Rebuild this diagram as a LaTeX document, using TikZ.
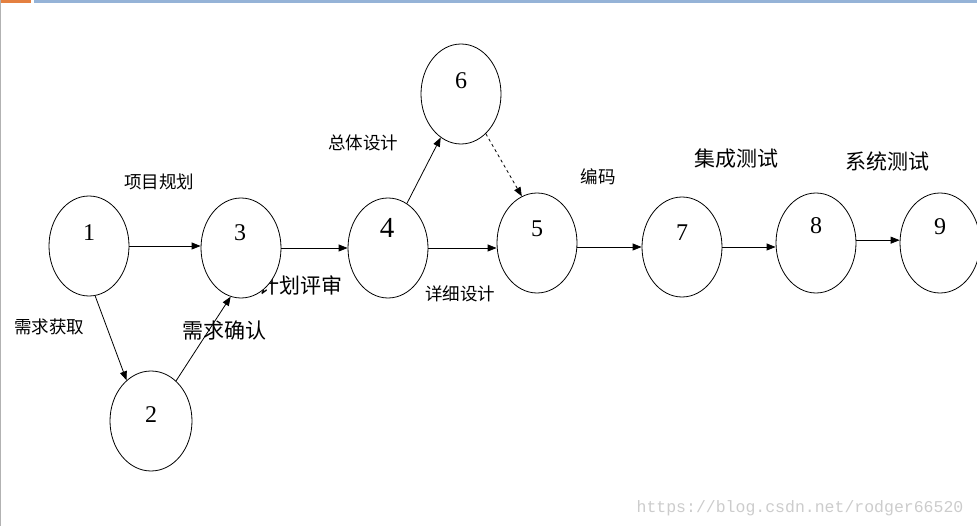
\documentclass[tikz,border=0pt]{standalone}
\usepackage{fontspec}
\setmainfont{Liberation Serif}
\newfontfamily\cjk{Noto Sans CJK SC}
\newfontfamily\wmfont{Liberation Mono}
\usetikzlibrary{arrows.meta,shapes.geometric}
\begin{document}
\begin{tikzpicture}[x=1pt,y=-1pt,
  evt/.style={draw,ellipse,fill=white,line width=0.8pt,minimum width=80pt,minimum height=100pt,inner sep=0pt},
  num/.style={font=\fontsize{24}{24}\selectfont,inner sep=0pt},
  bignum/.style={font=\fontsize{29}{29}\selectfont,inner sep=0pt},
  lab/.style={font=\cjk\fontsize{17.5}{17.5}\selectfont,inner sep=0pt},
  biglab/.style={font=\cjk\fontsize{21}{21}\selectfont,inner sep=0pt},
  arr/.style={-{Triangle[length=9pt,width=7pt]},line width=0.8pt},
  darr/.style={arr,dashed}]
\useasboundingbox (0,0) rectangle (977,526);
% frame decorations
\fill[fill={rgb,255:red,228;green,128;blue,64}] (0,0) rectangle (31,3);
\fill[fill={rgb,255:red,149;green,179;blue,215}] (34,0) rectangle (977,3);
\draw[gray!60,line width=1pt] (0.5,0) -- (0.5,526);
% label hidden partly behind node 3
\node[biglab] (l34) at (300,285) {计划评审};
% events
\node[evt] (e1) at (89,246) {};
\node[evt] (e3) at (241,248) {};
\node[evt] (e4) at (388,248) {};
\node[evt] (e6) at (461,94) {};
\node[evt] (e5) at (537,243) {};
\node[evt] (e7) at (682,247) {};
\node[evt] (e8) at (816,243) {};
\node[evt] (e9) at (940,243) {};
\node[evt,minimum width=82pt] (e2) at (151,421) {};
% numbers
\node[num] (n1) at (89,233) {1};
\node[num] (n3) at (240,233) {3};
\node[bignum] (n4) at (387,228) {4};
\node[num] (n6) at (461,81) {6};
\node[num] (n5) at (537,229) {5};
\node[num] (n7) at (682,233) {7};
\node[num] (n8) at (816,226) {8};
\node[num] (n9) at (940,227) {9};
\node[num] (n2) at (151,415) {2};
% connectors
\draw[arr] (e1.east) -- (e1.east -| e3.west);
\draw[arr] (e3.east) -- (e3.east -| e4.west);
\draw[arr] (e4.east) -- (e4.east -| e5.west);
\draw[arr] (e4.67) -- (e6.245);
\draw[darr] (e6.-58) -- (e5.108);
\draw[arr] (e5.east) ++(0,4) coordinate (c57) -- (c57 -| e7.west);
\draw[arr] (e7.east) -- (e7.east -| e8.west);
\draw[arr] (e8.4) -- (e8.4 -| e9.west);
\draw[arr] (e1.-83) -- (e2.121);
\draw[arr] (e2.58) -- (e3.-102);
% labels
\node[lab] (l13) at (159,182) {项目规划};
\node[lab] (l12) at (49,327) {需求获取};
\node[biglab] (l23) at (224,331) {需求确认};
\node[lab] (l46) at (363,143) {总体设计};
\node[lab] (l45) at (460,294) {详细设计};
\node[lab] (l57) at (598,177) {编码};
\node[biglab] (l78) at (736,159) {集成测试};
\node[biglab] (l89) at (887,161) {系统测试};
% watermark
\node[font=\wmfont\fontsize{16.5}{16.5}\selectfont,text=gray!40,inner sep=0pt] (wm) at (800,508) {https://blog.csdn.net/rodger66520};
\end{tikzpicture}
\end{document}
